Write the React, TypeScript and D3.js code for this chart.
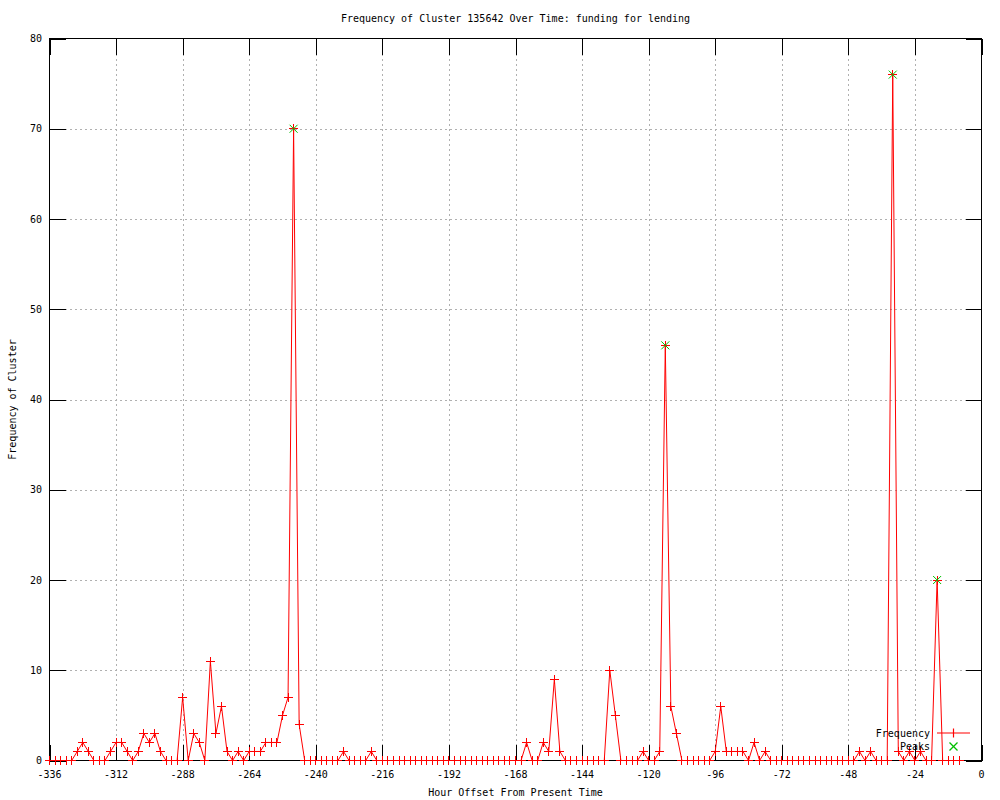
import React from "react";
import * as d3 from "d3";

// sample times, every 2 hours from -336 to -8
const hours = d3.range(-336, -6, 2);

const frequency = [
  0, 0, 0, 0, 0, 1,
  2, 1, 0, 0, 0, 1,
  2, 2, 1, 0, 1, 3,
  2, 3, 1, 0, 0, 0,
  7, 0, 3, 2, 0, 11,
  3, 6, 1, 0, 1, 0,
  1, 1, 1, 2, 2, 2,
  5, 7, 70, 4, 0, 0,
  0, 0, 0, 0, 0, 1,
  0, 0, 0, 0, 1, 0,
  0, 0, 0, 0, 0, 0,
  0, 0, 0, 0, 0, 0,
  0, 0, 0, 0, 0, 0,
  0, 0, 0, 0, 0, 0,
  0, 0, 2, 0, 0, 2,
  1, 9, 1, 0, 0, 0,
  0, 0, 0, 0, 0, 10,
  5, 0, 0, 0, 0, 1,
  0, 0, 1, 46, 6, 3,
  0, 0, 0, 0, 0, 0,
  1, 6, 1, 1, 1, 1,
  0, 2, 0, 1, 0, 0,
  0, 0, 0, 0, 0, 0,
  0, 0, 0, 0, 0, 0,
  0, 0, 1, 0, 1, 0,
  0, 0, 76, 1, 0, 1,
  0, 1, 0, 0, 20, 0,
  0, 0, 0,
];

const peakHours = [-248, -114, -32, -16];
const peakValues = [70, 46, 76, 20];

const xTicks = d3.range(-336, 1, 24);
const yTicks = d3.range(0, 81, 10);

const title = "Frequency of Cluster 135642 Over Time: funding for lending";
const xTitle = "Hour Offset From Present Time";
const yTitle = "Frequency of Cluster";

const W = 1000;
const H = 800;
const left = 49.5;
const right = 981.5;
const top = 38.5;
const bottom = 760.5;
const tickLen = 16;
const font = "'DejaVu Sans Mono', 'Liberation Mono', monospace";
const red = "#ff0000";
const green = "#00c000";

const App = () => {
  const x = d3.scaleLinear().domain([-336, 0]).range([left, right]);
  const y = d3.scaleLinear().domain([0, 80]).range([bottom, top]);

  const pts = hours.map((h, i) => ({ h, v: frequency[i] }));
  const line = d3
    .line<{ h: number; v: number }>()
    .x((d) => x(d.h))
    .y((d) => y(d.v));

  const plus = (cx: number, cy: number, r: number) =>
    `M${cx - r},${cy}H${cx + r}M${cx},${cy - r}V${cy + r}`;
  const cross = (cx: number, cy: number, r: number) =>
    `M${cx - r},${cy - r}L${cx + r},${cy + r}M${cx - r},${cy + r}L${cx + r},${cy - r}`;

  return (
    <svg
      width={W}
      height={H}
      style={{ position: "absolute", left: 0, top: 0, background: "#fff" }}
      fontFamily={font}
      fontSize={10}
    >
      <rect width={W} height={H} fill="#fff" />

      {/* grid */}
      <g stroke="#b0b0b0" strokeDasharray="2,3" shapeRendering="crispEdges">
        {xTicks.slice(1, -1).map((t) => (
          <line key={"gx" + t} x1={Math.round(x(t)) + 0.5} x2={Math.round(x(t)) + 0.5} y1={top} y2={bottom} />
        ))}
        {yTicks.slice(1, -1).map((t) => (
          <line key={"gy" + t} x1={left} x2={right} y1={Math.round(y(t)) + 0.5} y2={Math.round(y(t)) + 0.5} />
        ))}
      </g>

      {/* ticks */}
      <g stroke="#000" shapeRendering="crispEdges">
        {xTicks.map((t) => {
          const px = Math.round(x(t)) + 0.5;
          return (
            <g key={"tx" + t}>
              <line x1={px} x2={px} y1={bottom} y2={bottom - tickLen} />
              <line x1={px} x2={px} y1={top} y2={top + tickLen} />
            </g>
          );
        })}
        {yTicks.map((t) => {
          const py = Math.round(y(t)) + 0.5;
          return (
            <g key={"ty" + t}>
              <line x1={left} x2={left + tickLen} y1={py} y2={py} />
              <line x1={right} x2={right - tickLen} y1={py} y2={py} />
            </g>
          );
        })}
        <rect x={left} y={top} width={right - left} height={bottom - top} fill="none" />
      </g>

      {/* tick labels */}
      <g fill="#000">
        {xTicks.map((t) => (
          <text key={"lx" + t} x={x(t)} y={778} textAnchor="middle">
            {t}
          </text>
        ))}
        {yTicks.map((t) => (
          <text key={"ly" + t} x={42} y={y(t) + 3.5} textAnchor="end">
            {t}
          </text>
        ))}
      </g>

      {/* titles */}
      <text x={(left + right) / 2} y={22} textAnchor="middle">
        {title}
      </text>
      <text x={(left + right) / 2} y={796} textAnchor="middle">
        {xTitle}
      </text>
      <text transform={`translate(16,${(top + bottom) / 2}) rotate(-90)`} textAnchor="middle">
        {yTitle}
      </text>

      {/* frequency series */}
      <path d={line(pts) ?? ""} style={{ fill: "none", stroke: red, strokeWidth: 1 }} />
      <path
        d={pts.map((d) => plus(x(d.h), y(d.v), 4.5)).join("")}
        style={{ fill: "none", stroke: red, strokeWidth: 1 }}
        shapeRendering="crispEdges"
      />

      {/* peaks */}
      <path
        d={peakHours.map((h, i) => cross(x(h), y(peakValues[i]), 4)).join("")}
        style={{ fill: "none", stroke: green, strokeWidth: 1 }}
      />

      {/* legend */}
      <g transform="translate(0,0)">
        <text x={930} y={737} textAnchor="end">Frequency</text>
        <line x1={937} x2={970} y1={733} y2={733} stroke={red} strokeWidth={1.2} />
        <line x1={953.5} x2={953.5} y1={728.5} y2={737.5} stroke={red} strokeWidth={1.2} />
        <text x={930} y={750} textAnchor="end">Peaks</text>
        <line x1={949.5} x2={957.5} y1={742.5} y2={750.5} stroke={green} strokeWidth={1.2} />
        <line x1={949.5} x2={957.5} y1={750.5} y2={742.5} stroke={green} strokeWidth={1.2} />
      </g>
    </svg>
  );
};

export default App;
